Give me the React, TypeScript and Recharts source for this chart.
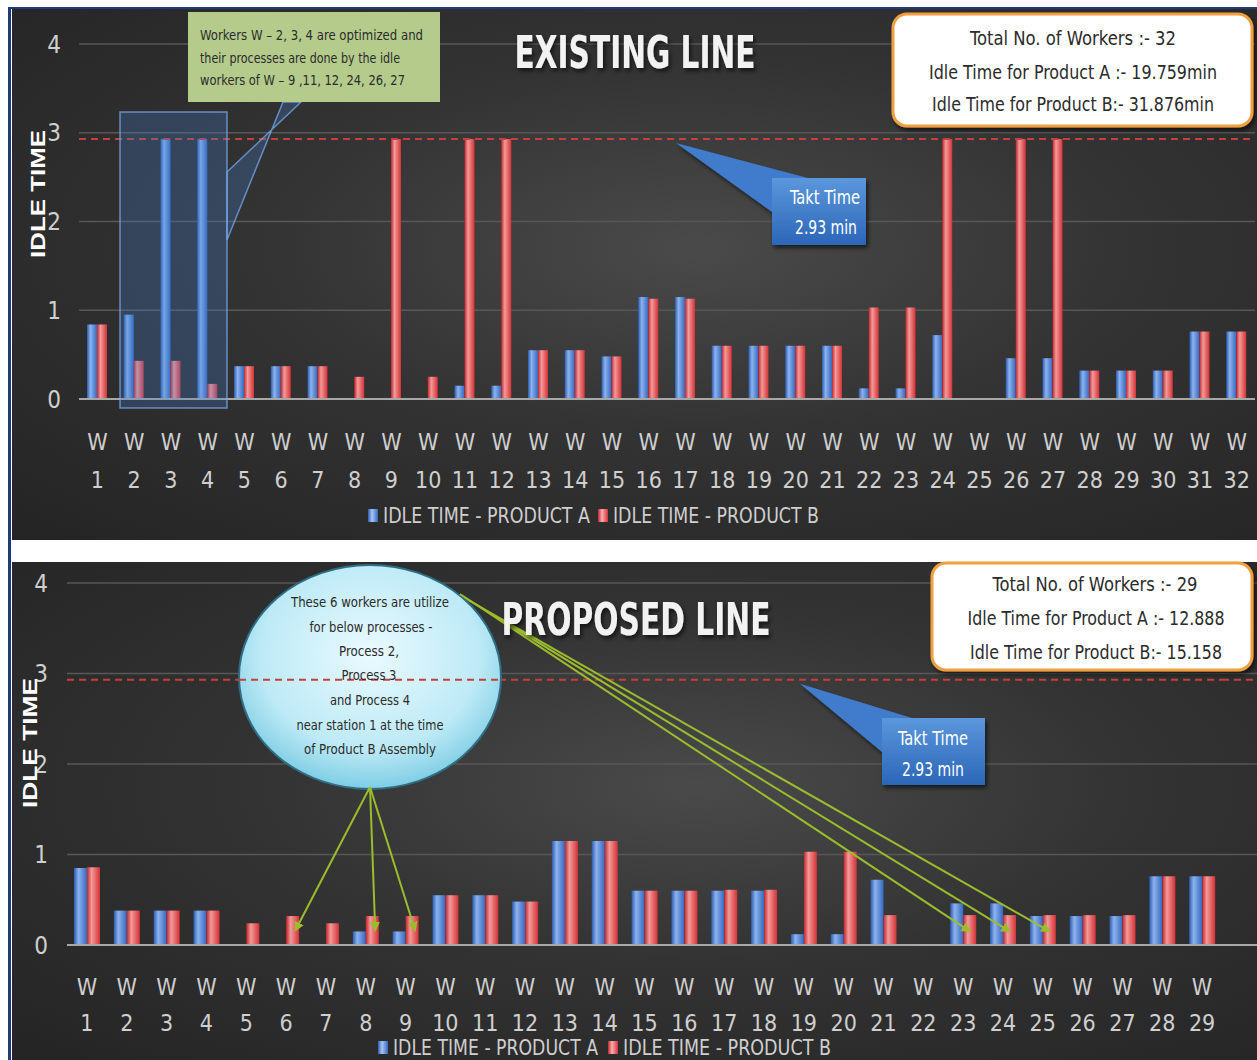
import React from 'react';
import { BarChart, Bar, XAxis, YAxis, CartesianGrid, ReferenceLine } from 'recharts';

// categories
const existingWorkers = ['1','2','3','4','5','6','7','8','9','10','11','12','13','14','15','16','17','18','19','20','21','22','23','24','25','26','27','28','29','30','31','32'];
const proposedWorkers = ['1','2','3','4','5','6','7','8','9','10','11','12','13','14','15','16','17','18','19','20','21','22','23','24','25','26','27','28','29'];

// idle time (min) per worker, existing line
const existingA = [0.84, 0.95, 2.93, 2.93, 0.37, 0.37, 0.37, 0.01, 0, 0.01, 0.15, 0.15, 0.55, 0.55, 0.48, 1.15, 1.15, 0.6, 0.6, 0.6, 0.6, 0.12, 0.12, 0.72, 0.01, 0.46, 0.46, 0.32, 0.32, 0.32, 0.76, 0.76];
const existingB = [0.84, 0.43, 0.43, 0.17, 0.37, 0.37, 0.37, 0.25, 2.93, 0.25, 2.93, 2.93, 0.55, 0.55, 0.48, 1.13, 1.13, 0.6, 0.6, 0.6, 0.6, 1.03, 1.03, 2.93, 0.01, 2.93, 2.93, 0.32, 0.32, 0.32, 0.76, 0.76];

// idle time (min) per worker, proposed line
const proposedA = [0.85, 0.38, 0.38, 0.38, 0.01, 0, 0.01, 0.15, 0.15, 0.55, 0.55, 0.48, 1.15, 1.15, 0.6, 0.6, 0.6, 0.6, 0.12, 0.12, 0.72, 0.01, 0.46, 0.46, 0.32, 0.32, 0.32, 0.76, 0.76];
const proposedB = [0.86, 0.38, 0.38, 0.38, 0.24, 0.32, 0.24, 0.32, 0.32, 0.55, 0.55, 0.48, 1.15, 1.15, 0.6, 0.6, 0.61, 0.61, 1.03, 1.03, 0.33, 0.01, 0.33, 0.33, 0.33, 0.33, 0.33, 0.76, 0.76];

const yTicks = [0, 1, 2, 3, 4];
const TAKT = 2.93;

const existingData = existingWorkers.map((w, i) => ({ name: w, a: existingA[i], b: existingB[i] }));
const proposedData = proposedWorkers.map((w, i) => ({ name: w, a: proposedA[i], b: proposedB[i] }));

const FONT = '"Liberation Sans Narrow", "DejaVu Sans Condensed", "Open Sans", sans-serif';
const TICK = '#cfcfcf';
const PANEL_BG = 'radial-gradient(ellipse at 55% 45%, #4a4a4a 0%, #333 45%, #242424 100%)';

const makeTick = (wDy: number, nDy: number) => (props: any) => {
  const { x, y, payload } = props;
  return (
    <g transform={`translate(${x},${y})`}>
      <text textAnchor="middle" fill={TICK} fontSize={23} fontFamily={FONT}>
        <tspan x={0} dy={wDy}>W</tspan>
        <tspan x={0} dy={nDy}>{payload.value}</tspan>
      </text>
    </g>
  );
};

const Defs = () => (
  <defs>
    <linearGradient id="gBlue" x1="0" y1="0" x2="1" y2="0">
      <stop offset="0%" stopColor="#2c5cb0" />
      <stop offset="35%" stopColor="#8db3ee" />
      <stop offset="100%" stopColor="#3568bf" />
    </linearGradient>
    <linearGradient id="gRed" x1="0" y1="0" x2="1" y2="0">
      <stop offset="0%" stopColor="#c0262b" />
      <stop offset="35%" stopColor="#f39a9a" />
      <stop offset="100%" stopColor="#d43236" />
    </linearGradient>
  </defs>
);

type PanelProps = {
  data: { name: string; a: number; b: number }[];
  width: number;
  height: number;
  margin: { top: number; right: number; left: number; bottom: number };
  yWidth: number;
  xHeight: number;
  barSize: number;
  tickMargin: number;
  wDy: number;
  nDy: number;
};

const Panel = ({ data, width, height, margin, yWidth, xHeight, barSize, tickMargin, wDy, nDy }: PanelProps) => (
  <BarChart width={width} height={height} data={data} margin={margin} barGap={0}>
    <Defs />
    <CartesianGrid vertical={false} stroke="#575757" strokeWidth={1.5} />
    <XAxis
      dataKey="name"
      height={xHeight}
      interval={0}
      tickLine={false}
      tickSize={0}
      stroke="#a8a8a8"
      strokeWidth={2}
      tick={makeTick(wDy, nDy)}
    />
    <YAxis
      width={yWidth}
      domain={[0, 4]}
      ticks={yTicks}
      axisLine={false}
      tickLine={false}
      tickSize={0}
      tickMargin={tickMargin}
      tick={{ fill: TICK, fontSize: 24, fontFamily: FONT }}
    />
    <ReferenceLine y={TAKT} stroke="#c2413e" strokeDasharray="7 5" strokeWidth={2} />
    <Bar dataKey="a" name="IDLE TIME - PRODUCT A" fill="url(#gBlue)" barSize={barSize} isAnimationActive={false} />
    <Bar dataKey="b" name="IDLE TIME - PRODUCT B" fill="url(#gRed)" barSize={barSize} isAnimationActive={false} />
  </BarChart>
);

// layout of the two plots (page coordinates)
const TOP = { left: 79, right: 1255, bottom: 399, unit: 88.75, n: 32, bar: 10 };
const BOT = { left: 67, right: 1222, bottom: 945, unit: 90.5, n: 29, bar: 13 };
const barX = (p: typeof TOP, i: number, which: 0 | 1) => {
  const band = (p.right - p.left) / p.n;
  const c = p.left + (i - 0.5) * band;
  return which === 0 ? c - p.bar / 2 : c + p.bar / 2;
};
const barY = (p: typeof TOP, v: number) => p.bottom - v * p.unit;

const T = ({ x, y, w, size, children, anchor = 'middle', fill = '#2b2b2b', weight = 'normal' as any }: any) => (
  <text x={x} y={y} fontSize={size} fontFamily={FONT} fill={fill} textAnchor={anchor} fontWeight={weight} textLength={w} lengthAdjust="spacingAndGlyphs">
    {children}
  </text>
);

const LegendSvg = ({ x, y, wA, gap, wB }: { x: number; y: number; wA: number; gap: number; wB: number }) => (
  <g>
    <rect x={x} y={y - 14} width={10} height={13} fill="url(#gBlueH)" />
    <T x={x + 15} y={y} w={wA} size={21} anchor="start" fill={TICK}>IDLE TIME - PRODUCT A</T>
    <rect x={x + 15 + wA + gap} y={y - 14} width={10} height={13} fill="url(#gRedH)" />
    <T x={x + 30 + wA + gap} y={y} w={wB} size={21} anchor="start" fill={TICK}>IDLE TIME - PRODUCT B</T>
  </g>
);

const arrowsLow = [6, 8, 9];
const arrowsHigh = [23, 24, 25];

const Overlay = () => {
  const taktTop = barY(TOP, TAKT);
  const taktBot = barY(BOT, TAKT);
  return (
    <svg width={1257} height={1060} style={{ position: 'absolute', left: 0, top: 0, pointerEvents: 'none' }}>
      <defs>
        <filter id="shadow" x="-20%" y="-20%" width="140%" height="140%">
          <feDropShadow dx="2" dy="3" stdDeviation="2" floodColor="#000" floodOpacity="0.6" />
        </filter>
        <linearGradient id="gTakt" x1="0" y1="0" x2="0" y2="1">
          <stop offset="0%" stopColor="#5b97dc" />
          <stop offset="100%" stopColor="#2c66b8" />
        </linearGradient>
        <linearGradient id="gBlueH" x1="0" y1="0" x2="1" y2="0">
          <stop offset="0%" stopColor="#2c5cb0" />
          <stop offset="40%" stopColor="#a9c6f3" />
          <stop offset="100%" stopColor="#3568bf" />
        </linearGradient>
        <linearGradient id="gRedH" x1="0" y1="0" x2="1" y2="0">
          <stop offset="0%" stopColor="#c0262b" />
          <stop offset="40%" stopColor="#f7b0b0" />
          <stop offset="100%" stopColor="#d43236" />
        </linearGradient>
        <radialGradient id="gEllipse" cx="50%" cy="40%" r="60%">
          <stop offset="0%" stopColor="#eafaff" />
          <stop offset="70%" stopColor="#bdeaf6" />
          <stop offset="100%" stopColor="#7fcde4" />
        </radialGradient>
        <marker id="arrow" viewBox="0 0 10 10" refX="8" refY="5" markerWidth="5" markerHeight="5" orient="auto">
          <path d="M0,0 L10,5 L0,10 z" fill="#9cbc2c" />
        </marker>
      </defs>

      {/* existing line annotations */}
      <rect x={120} y={112} width={107} height={296} fill="rgba(70,130,210,0.28)" stroke="rgba(120,170,235,0.75)" strokeWidth={1.5} />
      <polygon points="283,102 301,102 227,172 227,240" fill="rgba(70,130,210,0.28)" stroke="rgba(120,170,235,0.75)" strokeWidth={1.5} />
      <rect x={188} y={12} width={252} height={90} fill="#b4cb8c" />
      <T x={200} y={40} w={223} size={14} anchor="start">Workers W – 2, 3, 4  are optimized and</T>
      <T x={200} y={63} w={200} size={14} anchor="start">their processes are done by the idle</T>
      <T x={200} y={85} w={205} size={14} anchor="start">workers of W – 9 ,11, 12, 24, 26, 27</T>

      <g filter="url(#shadow)">
        <T x={635} y={68} w={241} size={44} fill="#f2f2f2" weight="bold">EXISTING LINE</T>
      </g>

      <rect x={893} y={14} width={359} height={112} rx={14} fill="#fff" stroke="#f0a040" strokeWidth={3} filter="url(#shadow)" />
      <T x={1073} y={45} w={206} size={19}>Total No. of Workers :- 32</T>
      <T x={1073} y={79} w={288} size={19}>Idle Time for Product A :- 19.759min</T>
      <T x={1073} y={111} w={282} size={19}>Idle Time for Product B:- 31.876min</T>

      <g filter="url(#shadow)">
        <polygon points={`676,${taktTop + 4} 808,178 772,212`} fill="#3f7ccb" />
        <rect x={772} y={178} width={94} height={67} fill="url(#gTakt)" />
      </g>
      <T x={825} y={204} w={70} size={19} fill="#fff">Takt Time</T>
      <T x={826} y={234} w={62} size={19} fill="#fff">2.93 min</T>

      <text transform="translate(45,194) rotate(-90)" textAnchor="middle" fontSize={21} fontWeight="bold" fill="#fff" fontFamily="Liberation Sans, Arial, sans-serif" textLength={128} lengthAdjust="spacingAndGlyphs">IDLE TIME</text>

      <LegendSvg x={368} y={523} wA={207} gap={8} wB={206} />

      {/* proposed line annotations */}
      {[1, 2, 3, 4].map((v) => (
        <line key={`g${v}`} x1={BOT.right} x2={1257} y1={barY(BOT, v)} y2={barY(BOT, v)} stroke="#575757" strokeWidth={1.5} />
      ))}
      <line x1={BOT.right} x2={1257} y1={BOT.bottom} y2={BOT.bottom} stroke="#a8a8a8" strokeWidth={2} />
      <line x1={BOT.right} x2={1257} y1={taktBot} y2={taktBot} stroke="#c2413e" strokeDasharray="7 5" strokeWidth={2} />

      <ellipse cx={370} cy={677} rx={131} ry={112} fill="url(#gEllipse)" stroke="#2f6f86" strokeWidth={2} />
      <line x1={239} x2={501} y1={taktBot} y2={taktBot} stroke="#c2413e" strokeDasharray="7 5" strokeWidth={2} />
      <T x={370} y={607} w={158} size={14}>These  6 workers are utilize</T>
      <T x={371} y={632} w={123} size={14}>for below processes -</T>
      <T x={369} y={656} w={60} size={14}>Process 2,</T>
      <T x={369} y={680} w={55} size={14}>Process 3</T>
      <T x={370} y={705} w={80} size={14}>and Process 4</T>
      <T x={370} y={730} w={147} size={14}>near station 1 at the time</T>
      <T x={370} y={754} w={132} size={14}>of Product B Assembly</T>

      {arrowsLow.map((i) => (
        <line key={`l${i}`} x1={370} y1={787} x2={barX(BOT, i, 1) + 3} y2={barY(BOT, proposedB[i - 1]) + 14} stroke="#9cbc2c" strokeWidth={2} markerEnd="url(#arrow)" />
      ))}
      {arrowsHigh.map((i, k) => (
        <line key={`h${i}`} x1={460 + k * 4} y1={594 + k * 3} x2={barX(BOT, i, 1)} y2={barY(BOT, proposedB[i - 1]) + 16} stroke="#9cbc2c" strokeWidth={2} markerEnd="url(#arrow)" />
      ))}

      <g filter="url(#shadow)">
        <T x={636} y={635} w={269} size={44} fill="#f2f2f2" weight="bold">PROPOSED LINE</T>
      </g>

      <rect x={932} y={563} width={320} height={107} rx={14} fill="#fff" stroke="#f0a040" strokeWidth={3} filter="url(#shadow)" />
      <T x={1095} y={591} w={205} size={19}>Total No. of Workers :- 29</T>
      <T x={1096} y={625} w={257} size={19}>Idle Time for Product A :- 12.888</T>
      <T x={1096} y={659} w={252} size={19}>Idle Time for Product B:- 15.158</T>

      <g filter="url(#shadow)">
        <polygon points={`800,${taktBot + 4} 912,718 882,752`} fill="#3f7ccb" />
        <rect x={882} y={718} width={103} height={67} fill="url(#gTakt)" />
      </g>
      <T x={933} y={745} w={70} size={19} fill="#fff">Takt Time</T>
      <T x={933} y={776} w={62} size={19} fill="#fff">2.93 min</T>

      <text transform="translate(37,743) rotate(-90)" textAnchor="middle" fontSize={21} fontWeight="bold" fill="#fff" fontFamily="Liberation Sans, Arial, sans-serif" textLength={130} lengthAdjust="spacingAndGlyphs">IDLE TIME</text>

      <LegendSvg x={378} y={1055} wA={205} gap={10} wB={208} />
    </svg>
  );
};

export default function App() {
  return (
    <div style={{ position: 'absolute', left: 0, top: 0, width: 1257, height: 1060, background: '#fff', overflow: 'hidden' }}>
      <div style={{ position: 'absolute', left: 8, top: 7, width: 1249, height: 1053, borderLeft: '3px solid #1d3c78', borderTop: '2px solid #1d3c78' }} />

      <div style={{ position: 'absolute', left: 12, top: 9, width: 1245, height: 531, background: PANEL_BG }}>
        <Panel
          data={existingData}
          width={1245}
          height={531}
          margin={{ top: 35, right: 2, left: 0, bottom: 32 }}
          yWidth={67}
          xHeight={109}
          barSize={TOP.bar}
          tickMargin={18}
          wDy={49}
          nDy={38}
        />
      </div>

      <div style={{ position: 'absolute', left: 12, top: 562, width: 1245, height: 498, background: PANEL_BG }}>
        <Panel
          data={proposedData}
          width={1245}
          height={498}
          margin={{ top: 21, right: 35, left: 0, bottom: 25 }}
          yWidth={55}
          xHeight={90}
          barSize={BOT.bar}
          tickMargin={19}
          wDy={48}
          nDy={36}
        />
      </div>

      <Overlay />
    </div>
  );
}
